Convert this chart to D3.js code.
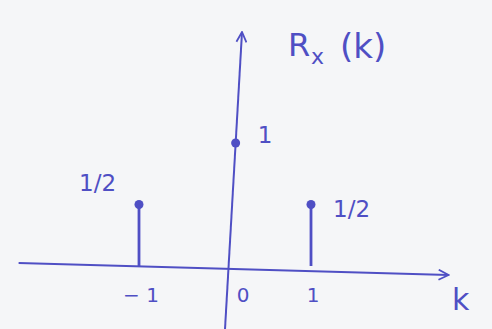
<!DOCTYPE html>
<html>
<head>
<meta charset="utf-8">
<script src="https://cdn.jsdelivr.net/npm/d3@7"></script>
<style>
  body { margin: 0; background: #f5f6f8; }
  svg { display: block; }
  text { font-family: 'DejaVu Sans', sans-serif; fill: #4f4fc4; }
</style>
</head>
<body>
<div id="chart"></div>
<script>
var lags = [-1, 0, 1];
var values = [0.5, 1, 0.5];
var valueLabels = ['1/2', '1', '1/2'];
var tickLabels = ['\u2212 1', '0', '1'];

var width = 492;
var height = 329;
var ink = '#4f4fc4';

var x = d3.scaleLinear()
    .domain([-1, 1])
    .range([139, 311]);

var y = d3.scaleLinear()
    .domain([0, 1])
    .range([266, 143]);

var svg = d3.select('#chart')
    .append('svg')
    .attr('width', width)
    .attr('height', height);

svg.append('rect')
    .attr('width', width)
    .attr('height', height)
    .attr('fill', '#f5f6f8');

var defs = svg.append('defs');
defs.append('marker')
    .attr('id', 'arrow')
    .attr('viewBox', '0 0 12 12')
    .attr('refX', 11)
    .attr('refY', 6)
    .attr('markerWidth', 12)
    .attr('markerHeight', 12)
    .attr('markerUnits', 'userSpaceOnUse')
    .attr('orient', 'auto')
    .append('path')
    .attr('d', 'M1,1 L11,6 L1,11')
    .attr('fill', 'none')
    .attr('stroke', ink)
    .attr('stroke-width', 1.8);

// horizontal axis (k), hand drawn so it drifts down a little
svg.append('line')
    .attr('x1', x(-2.4))
    .attr('y1', y(0) - 3)
    .attr('x2', x(2.6))
    .attr('y2', y(0) + 9)
    .attr('stroke', ink)
    .attr('stroke-width', 2)
    .attr('marker-end', 'url(#arrow)');

// vertical axis (Rx), leaning right
var lean = 17 / (height - 32);
svg.append('line')
    .attr('x1', x(0))
    .attr('y1', height)
    .attr('x2', x(0) + 17)
    .attr('y2', 32)
    .attr('stroke', ink)
    .attr('stroke-width', 2)
    .attr('marker-end', 'url(#arrow)');

function stemX(d, i) {
    // the k = 0 sample sits on the leaning axis
    return d === 0 ? x(d) + (height - y(values[i])) * lean : x(d);
}

// stems
svg.selectAll('.stem')
    .data(lags.filter(function (d) { return d !== 0; }))
    .enter()
    .append('line')
    .attr('class', 'stem')
    .attr('x1', function (d) { return x(d); })
    .attr('y1', y(0))
    .attr('x2', function (d) { return x(d); })
    .attr('y2', function (d) { return y(values[lags.indexOf(d)]); })
    .attr('stroke', ink)
    .attr('stroke-width', 2.8);

svg.selectAll('.dot')
    .data(lags)
    .enter()
    .append('circle')
    .attr('cx', stemX)
    .attr('cy', function (d, i) { return y(values[i]); })
    .attr('r', 4.5)
    .attr('fill', ink);

// value labels
var labelOffsets = [[-60, -14], [22, 0], [22, 12]];
svg.selectAll('.vlabel')
    .data(lags)
    .enter()
    .append('text')
    .attr('x', function (d, i) { return stemX(d, i) + labelOffsets[i][0]; })
    .attr('y', function (d, i) { return y(values[i]) + labelOffsets[i][1]; })
    .attr('font-size', 23)
    .text(function (d, i) { return valueLabels[i]; });

// tick labels
svg.selectAll('.tlabel')
    .data(lags)
    .enter()
    .append('text')
    .attr('x', function (d) { return x(d) + (d === 0 ? 18 : 2); })
    .attr('y', y(0) + 36)
    .attr('text-anchor', 'middle')
    .attr('font-size', 20)
    .text(function (d, i) { return tickLabels[i]; });

svg.append('text')
    .attr('x', 452)
    .attr('y', 310)
    .attr('font-size', 30)
    .text('k');

svg.append('text')
    .attr('x', 288)
    .attr('y', 56)
    .attr('font-size', 32)
    .text('R');
svg.append('text')
    .attr('x', 311)
    .attr('y', 64)
    .attr('font-size', 22)
    .text('x');
svg.append('text')
    .attr('x', 340)
    .attr('y', 58)
    .attr('font-size', 34)
    .text('(k)');
</script>
</body>
</html>
